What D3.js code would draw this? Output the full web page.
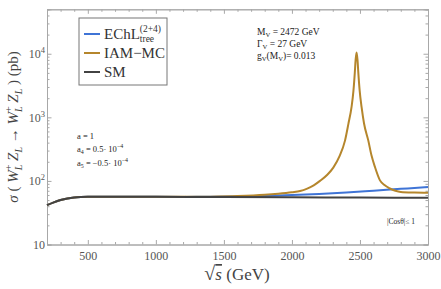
<!DOCTYPE html>
<html lang="en">
<head>
<meta charset="UTF-8"/>
<title>sigma WL ZL</title>
<script src="https://d3js.org/d3.v7.min.js"></script>
<style>
	body { margin: 0; background: #fff; }
	.frame path.domain { stroke: #a8a8a8; }
	.frame line { stroke: #a8a8a8; }
	.frame text { fill: #555; font-size: 12px; }
	.line { fill: none; stroke-width: 2; stroke-linejoin: round; }
</style>
</head>
<body>
<div id="chart"></div>
<script>
var w = 441;
var h = 289;
var serif = "'Liberation Serif', 'Times New Roman', 'DejaVu Serif', serif";

// sqrt(s) in GeV, sigma in pb
var smX   = [200, 250, 300, 350, 400, 450, 500, 600, 800, 1000, 1500, 2000, 2500, 3000];
var smY   = [41.5, 46, 50, 53, 55, 56, 56.5, 56.5, 56.4, 56.2, 55.8, 55.3, 54.8, 54.3];

var echlX = [200, 250, 300, 350, 400, 450, 500, 600, 800, 1000, 1200, 1400, 1600, 1800, 2000, 2200, 2400, 2600, 2800, 3000];
var echlY = [41.5, 46, 50, 53, 55, 56, 56.5, 56.5, 56.4, 56.2, 56.1, 56.2, 56.8, 58, 59.8, 62.3, 65.8, 70.2, 75, 80];

var iamX  = [200, 250, 300, 350, 400, 450, 500, 600, 800, 1000, 1200, 1400, 1600, 1800, 1900, 2000, 2060, 2108, 2160,
             2206, 2260, 2304, 2350, 2390, 2415, 2438, 2452, 2462, 2468, 2475, 2482, 2488, 2498, 2512, 2530, 2561,
             2585, 2610, 2647, 2680, 2720, 2760, 2800, 2900, 3000];
var iamY  = [41.5, 46, 50, 53, 55, 56, 56.5, 56.5, 56.4, 56.2, 56.2, 56.6, 57.8, 60.5, 63, 66.5, 69.5, 75, 85,
             100, 125, 162, 245, 430, 790, 1445, 2600, 5000, 8000, 10500, 8000, 5000, 2600, 1445, 800, 434,
             250, 166, 102, 86, 76, 70, 67, 65.5, 65];

var xMajor = [500, 1000, 1500, 2000, 2500, 3000];
var yMajor = [10, 100, 1000, 10000];

var x = d3.scaleLinear().domain([200, 3000]).range([47, 428]);
var y = d3.scaleLog().domain([10, 50000]).range([244.5, 9.3]);

var xMinor = d3.range(200, 3001, 100).filter(function(d){ return xMajor.indexOf(d) < 0; });
var yMinor = [];
[10, 100, 1000, 10000].forEach(function(p){
	for (var k = 2; k <= 9; k++) { if (k * p <= 50000) yMinor.push(k * p); }
});

var svg = d3.select("#chart").append("svg")
	.attr("width", w)
	.attr("height", h)
	.attr("font-family", serif);

// frame with inward ticks on all four sides
function frameAxis(axis, tr, vals, size, fmt) {
	return svg.append("g")
		.attr("class", "frame")
		.attr("transform", tr)
		.call(axis.tickValues(vals).tickSize(size).tickPadding(fmt ? 7 : 0).tickFormat(fmt || ""));
}
frameAxis(d3.axisBottom(x), "translate(0,244.5)", xMajor, -4.5, d3.format("d"));
frameAxis(d3.axisBottom(x), "translate(0,244.5)", xMinor, -2.5);
frameAxis(d3.axisTop(x), "translate(0,9.3)", xMajor, -4.5);
frameAxis(d3.axisTop(x), "translate(0,9.3)", xMinor, -2.5);
frameAxis(d3.axisRight(y), "translate(428,0)", yMajor, -4.5);
frameAxis(d3.axisRight(y), "translate(428,0)", yMinor, -2.5);
frameAxis(d3.axisLeft(y), "translate(47,0)", yMinor, -2.5);
var yAx = svg.append("g")
	.attr("class", "frame")
	.attr("transform", "translate(47,0)")
	.call(d3.axisLeft(y).tickValues(yMajor).tickSize(-4.5).tickPadding(2).tickFormat(""));
yAx.selectAll(".tick text").each(function(d){
	var t = d3.select(this);
	var e = Math.round(Math.log10(d));
	t.append("tspan").text("10");
	if (e > 1) t.append("tspan").attr("dy", -5).attr("font-size", 8.5).text(e);
});

// curves
var line = d3.line()
	.x(function(d){ return x(d[0]); })
	.y(function(d){ return y(d[1]); })
	.curve(d3.curveMonotoneX);

var series = [
	{xs: echlX, ys: echlY, color: "#3f74d6"},
	{xs: iamX,  ys: iamY,  color: "#b5862c"},
	{xs: smX,   ys: smY,   color: "#424242"}
];
series.forEach(function(s){
	svg.append("path")
		.datum(d3.zip(s.xs, s.ys))
		.attr("class", "line")
		.attr("stroke", s.color)
		.attr("d", line);
});

// legend
svg.append("rect")
	.attr("x", 79).attr("y", 18).attr("width", 88).attr("height", 67)
	.attr("fill", "#fff").attr("stroke", "#777").attr("stroke-width", 1);
var legY = [34, 53, 72];
series.forEach(function(s, i){
	svg.append("line")
		.attr("x1", 84).attr("x2", 100)
		.attr("y1", legY[i]).attr("y2", legY[i])
		.attr("stroke", s.color).attr("stroke-width", 2);
});
var lt = svg.append("text").attr("x", 104).attr("y", legY[0] + 5)
	.attr("font-size", 15).attr("fill", "#333").text("EChL");
var lw = lt.node().getComputedTextLength();
svg.append("text").attr("x", 104 + lw).attr("y", legY[0] - 2)
	.attr("font-size", 9.5).attr("fill", "#333").text("(2+4)");
svg.append("text").attr("x", 104 + lw).attr("y", legY[0] + 8)
	.attr("font-size", 9.5).attr("fill", "#333").text("tree");
svg.append("text").attr("x", 104).attr("y", legY[1] + 5)
	.attr("font-size", 15).attr("fill", "#333").text("IAM\u2212MC");
svg.append("text").attr("x", 104).attr("y", legY[2] + 5)
	.attr("font-size", 15).attr("fill", "#333").text("SM");

// annotations
function note(xp, yp, size, parts) {
	var t = svg.append("text").attr("x", xp).attr("y", yp)
		.attr("font-size", size).attr("fill", "#222");
	parts.forEach(function(p){
		var s = t.append("tspan").text(p[0]);
		if (p[1] === "sub") s.attr("font-size", size * 0.7).attr("dy", 2);
		if (p[1] === "up") s.attr("dy", -2);
		if (p[1] === "sup") s.attr("font-size", size * 0.7).attr("dy", -4);
	});
}
note(257, 35, 9.5, [["M"], ["V", "sub"], [" = 2472 GeV", "up"]]);
note(257, 47, 9.5, [["\u0393"], ["V", "sub"], [" = 27 GeV", "up"]]);
note(257, 59, 9.5, [["g"], ["V", "sub"], ["(M", "up"], ["V", "sub"], [")= 0.013", "up"]]);

note(77, 139, 8.5, [["a = 1"]]);
note(77, 152, 8.5, [["a"], ["4", "sub"], [" = 0.5\u00b7 10", "up"], ["\u22124", "sup"]]);
note(77, 166, 8.5, [["a"], ["5", "sub"], [" = \u22120.5\u00b7 10", "up"], ["\u22124", "sup"]]);

note(387, 224, 7.5, [["|Cos\u03b8|\u2264 1"]]);

// axis titles
var xl = svg.append("text")
	.attr("x", 237).attr("y", 280)
	.attr("text-anchor", "middle")
	.attr("font-size", 17).attr("fill", "#444");
xl.append("tspan").attr("font-size", 20).text("\u221a");
xl.append("tspan").attr("font-style", "italic")
	.style("text-decoration", "overline").text("s");
xl.append("tspan").text(" (GeV)");

var yl = svg.append("text")
	.attr("transform", "translate(18,127) rotate(-90)")
	.attr("text-anchor", "middle")
	.attr("font-size", 15).attr("fill", "#444");
yl.append("tspan").attr("font-style", "italic").text("\u03c3");
yl.append("tspan").text(" ( ");
function wl(t) {
	t.append("tspan").attr("font-style", "italic").text("W");
	t.append("tspan").attr("font-size", 10).attr("dy", -6).text("+");
	t.append("tspan").attr("font-size", 10).attr("font-style", "italic")
		.attr("dx", -5.6).attr("dy", 10).text("L");
	t.append("tspan").attr("dy", -4).attr("font-style", "italic").text(" Z");
	t.append("tspan").attr("font-size", 10).attr("font-style", "italic")
		.attr("dy", 4).text("L");
}
wl(yl);
yl.append("tspan").attr("dy", -4).text(" \u2192 ");
wl(yl);
yl.append("tspan").attr("dy", -4).text(" ) (pb)");

svg.selectAll("text").attr("font-family", serif);
</script>
</body>
</html>
